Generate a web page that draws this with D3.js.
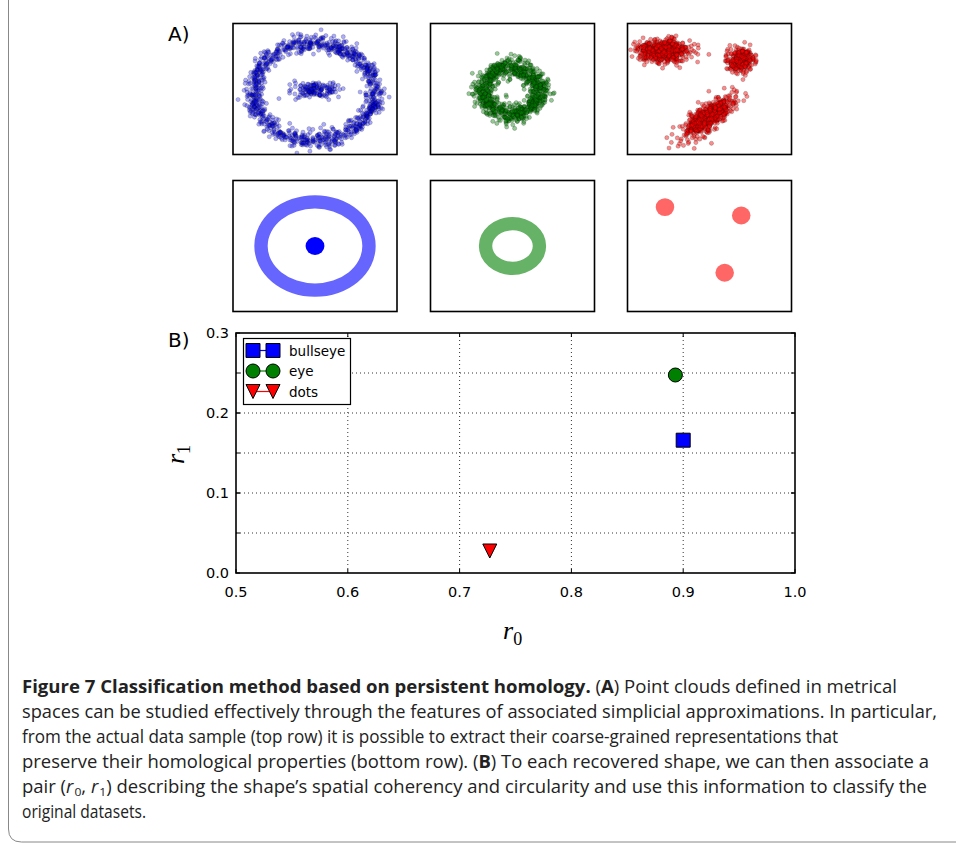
<!DOCTYPE html>
<html>
<head>
<meta charset="utf-8">
<script src="https://cdn.jsdelivr.net/npm/d3@7"></script>
<style>
  body { margin: 0; background: #fff; }
  svg { display: block; }
</style>
</head>
<body>
<svg id="fig" width="956" height="844"></svg>
<script>
// ---- data ----
// top row: the point clouds are described by their shapes (rings / blobs in panel units),
// the single points themselves are drawn from a seeded sampler since they cannot be read one by one
var cloudColors = ["rgba(0,0,255,0.32)", "rgba(0,128,0,0.42)", "rgba(255,0,0,0.45)"];
var cloudRings = [
  {panel: 0, cx: -0.01, cy: -0.03, rx: 0.74, ry: 0.6, sd: 0.065, n: 1000},
  {panel: 1, cx: -0.02, cy: -0.02, rx: 0.34, ry: 0.29, sd: 0.07, n: 900}
];
var cloudBlobs = [
  {panel: 0, cx: 0.01, cy: -0.01, sx: 0.14, sy: 0.05, angle: 0, n: 140},
  {panel: 2, cx: -0.57, cy: 0.47, sx: 0.16, sy: 0.065, angle: 0, n: 600},
  {panel: 2, cx: 0.376, cy: 0.36, sx: 0.085, sy: 0.07, angle: 0, n: 280},
  {panel: 2, cx: -0.01, cy: -0.34, sx: 0.18, sy: 0.07, angle: 37, n: 600}
];

// bottom row: coarse-grained shapes
var shapeColors = ["#6666ff", "#66b266", "#ff6666"];
var shapeRings = [
  {panel: 0, cx: 0.0, cy: 0.0, rx: 0.74, ry: 0.62, w: 0.163},
  {panel: 1, cx: 0.0, cy: 0.0, rx: 0.41, ry: 0.355, w: 0.163}
];
var shapeDots = [
  {panel: 0, cx: 0.0, cy: 0.0, rx: 0.115, ry: 0.11, color: "#0000ff"},
  {panel: 2, cx: -0.543, cy: 0.475, rx: 0.113, ry: 0.109, color: "#ff6666"},
  {panel: 2, cx: 0.387, cy: 0.373, rx: 0.113, ry: 0.109, color: "#ff6666"},
  {panel: 2, cx: 0.185, cy: -0.327, rx: 0.113, ry: 0.109, color: "#ff6666"}
];

// panel B
var seriesNames = ["bullseye", "eye", "dots"];
var seriesColors = ["#0000ff", "#008000", "#ff0000"];
var seriesShapes = ["square", "circle", "triangle"];
var seriesR0 = [0.900, 0.893, 0.727];
var seriesR1 = [0.166, 0.2475, 0.0275];
var xTicks = [0.5, 0.6, 0.7, 0.8, 0.9, 1.0];
var yTicks = [0.0, 0.1, 0.2, 0.3];
var yGrid = [0.05, 0.1, 0.15, 0.2, 0.25];

var svg = d3.select("#fig");

// outer frame of the figure box
svg.append("path")
  .attr("d", "M8.5,0 V829 Q8.5,842 21.5,842 H960")
  .attr("fill", "none").attr("stroke", "#888").attr("stroke-width", 1);

svg.append("text").attr("x", 168).attr("y", 41)
  .attr("font-family", "DejaVu Sans").attr("font-size", 20).text("A)");
svg.append("text").attr("x", 168).attr("y", 347)
  .attr("font-family", "DejaVu Sans").attr("font-size", 20).text("B)");

// ---- small panels ----
var panelX = [233, 430.5, 627.5];
var panelW = 164, panelH = 131;
var topY = 23.5, botY = 180.5;

var px = d3.scaleLinear().domain([-1, 1]).range([0, panelW]);
var py = d3.scaleLinear().domain([-0.8, 0.8]).range([panelH, 0]);

function makePanel(i, y0) {
  var g = svg.append("g").attr("transform", "translate(" + panelX[i] + "," + y0 + ")");
  g.append("clipPath").attr("id", "clip" + i + "_" + y0)
    .append("rect").attr("width", panelW).attr("height", panelH);
  var inner = g.append("g").attr("clip-path", "url(#clip" + i + "_" + y0 + ")");
  return {g: g, inner: inner};
}

var lcg = d3.randomLcg(0.2718);
var rnorm = d3.randomNormal.source(lcg)(0, 1);
var runif = d3.randomUniform.source(lcg)(0, 2 * Math.PI);

var topPanels = panelX.map(function(d, i) { return makePanel(i, topY); });
var botPanels = panelX.map(function(d, i) { return makePanel(i, botY); });

// sample clouds
var cloudPts = [[], [], []];
cloudRings.forEach(function(r) {
  for (var k = 0; k < r.n; k++) {
    var t = runif();
    cloudPts[r.panel].push([r.cx + (r.rx + rnorm() * r.sd) * Math.cos(t),
                            r.cy + (r.ry + rnorm() * r.sd) * Math.sin(t)]);
  }
});
cloudBlobs.forEach(function(b) {
  var a = b.angle * Math.PI / 180;
  for (var k = 0; k < b.n; k++) {
    var u = rnorm() * b.sx, v = rnorm() * b.sy;
    cloudPts[b.panel].push([b.cx + u * Math.cos(a) - v * Math.sin(a),
                            b.cy + u * Math.sin(a) + v * Math.cos(a)]);
  }
});

topPanels.forEach(function(p, i) {
  p.inner.selectAll("circle").data(cloudPts[i]).enter().append("circle")
    .attr("cx", function(d) { return px(d[0]); })
    .attr("cy", function(d) { return py(d[1]); })
    .attr("r", 2.1)
    .attr("fill", cloudColors[i])
    .attr("stroke", "rgba(0,0,0,0.3)")
    .attr("stroke-width", 0.6);
});

// bottom row shapes
function ellipsePath(cx, cy, rx, ry) {
  return "M" + (cx - rx) + "," + cy +
    "a" + rx + "," + ry + " 0 1,0 " + (2 * rx) + ",0" +
    "a" + rx + "," + ry + " 0 1,0 " + (-2 * rx) + ",0Z";
}
var kx = panelW / 2, ky = panelH / 1.6;
shapeRings.forEach(function(r) {
  var cx = px(r.cx), cy = py(r.cy);
  botPanels[r.panel].inner.append("path")
    .attr("d", ellipsePath(cx, cy, r.rx * kx, r.ry * ky) +
               ellipsePath(cx, cy, (r.rx - r.w) * kx, (r.ry - r.w) * ky))
    .attr("fill-rule", "evenodd")
    .attr("fill", shapeColors[r.panel]);
});
shapeDots.forEach(function(d) {
  botPanels[d.panel].inner.append("ellipse")
    .attr("cx", px(d.cx)).attr("cy", py(d.cy))
    .attr("rx", d.rx * kx).attr("ry", d.ry * ky)
    .attr("fill", d.color);
});

topPanels.concat(botPanels).forEach(function(p) {
  p.g.append("rect").attr("width", panelW).attr("height", panelH)
    .attr("fill", "none").attr("stroke", "#000").attr("stroke-width", 1.6);
});

// ---- panel B ----
var x = d3.scaleLinear().domain([0.5, 1.0]).range([236, 795]);
var y = d3.scaleLinear().domain([0, 0.3]).range([573, 333]);

var gridG = svg.append("g");
gridG.selectAll(".vg").data(xTicks.slice(1, -1)).enter().append("line")
  .attr("x1", function(d) { return x(d); }).attr("x2", function(d) { return x(d); })
  .attr("y1", y(0)).attr("y2", y(0.3))
  .attr("stroke", "#333").attr("stroke-width", 1).attr("stroke-dasharray", "1,3");
gridG.selectAll(".hg").data(yGrid).enter().append("line")
  .attr("y1", function(d) { return y(d); }).attr("y2", function(d) { return y(d); })
  .attr("x1", x(0.5)).attr("x2", x(1.0))
  .attr("stroke", "#333").attr("stroke-width", 1).attr("stroke-dasharray", "1,3");

// inward ticks
var tickG = svg.append("g").attr("stroke", "#000").attr("stroke-width", 1);
xTicks.forEach(function(d) {
  tickG.append("line").attr("x1", x(d)).attr("x2", x(d)).attr("y1", y(0)).attr("y2", y(0) - 4);
  tickG.append("line").attr("x1", x(d)).attr("x2", x(d)).attr("y1", y(0.3)).attr("y2", y(0.3) + 4);
});
yGrid.concat(yTicks).forEach(function(d) {
  tickG.append("line").attr("y1", y(d)).attr("y2", y(d)).attr("x1", x(0.5)).attr("x2", x(0.5) + 4);
  tickG.append("line").attr("y1", y(d)).attr("y2", y(d)).attr("x1", x(1.0)).attr("x2", x(1.0) - 4);
});

svg.append("rect")
  .attr("x", x(0.5)).attr("y", y(0.3))
  .attr("width", x(1.0) - x(0.5)).attr("height", y(0) - y(0.3))
  .attr("fill", "none").attr("stroke", "#000").attr("stroke-width", 1.6);

svg.selectAll(".xl").data(xTicks).enter().append("text")
  .attr("x", function(d) { return x(d); }).attr("y", 597)
  .attr("text-anchor", "middle")
  .attr("font-family", "DejaVu Sans").attr("font-size", 14.5)
  .text(function(d) { return d.toFixed(1); });
svg.selectAll(".yl").data(yTicks).enter().append("text")
  .attr("x", 229).attr("y", function(d) { return y(d) + 5; })
  .attr("text-anchor", "end")
  .attr("font-family", "DejaVu Sans").attr("font-size", 14.5)
  .text(function(d) { return d.toFixed(1); });

// axis labels
var xlab = svg.append("text").attr("x", 503).attr("y", 639)
  .attr("font-family", "Liberation Serif").attr("font-size", 26);
xlab.append("tspan").attr("font-style", "italic").text("r");
xlab.append("tspan").attr("dy", 6).attr("font-size", 18).text("0");

var ylab = svg.append("text")
  .attr("transform", "translate(184,464) rotate(-90)")
  .attr("font-family", "Liberation Serif").attr("font-size", 26);
ylab.append("tspan").attr("font-style", "italic").text("r");
ylab.append("tspan").attr("dy", 6).attr("font-size", 18).text("1");

// markers
function markerPath(shape) {
  if (shape === "square") return "M-7,-7H7V7H-7Z";
  if (shape === "circle") return d3.symbol(d3.symbolCircle, Math.PI * 49)();
  return "M-7,-7L7,-7L0,7Z";
}

svg.selectAll(".pt").data(seriesNames).enter().append("path")
  .attr("transform", function(d, i) { return "translate(" + x(seriesR0[i]) + "," + y(seriesR1[i]) + ")"; })
  .attr("d", function(d, i) { return markerPath(seriesShapes[i]); })
  .attr("fill", function(d, i) { return seriesColors[i]; })
  .attr("stroke", "#000").attr("stroke-width", 1);

// legend
var leg = svg.append("g");
leg.append("rect").attr("x", 243.5).attr("y", 338.5).attr("width", 107).attr("height", 66)
  .attr("fill", "#fff").attr("stroke", "#000").attr("stroke-width", 1.2);
seriesNames.forEach(function(name, i) {
  var ey = 350.5 + i * 20.5;
  leg.append("line").attr("x1", 253).attr("x2", 273).attr("y1", ey).attr("y2", ey)
    .attr("stroke", seriesColors[i]).attr("stroke-width", 1.2);
  [253, 273].forEach(function(mx) {
    leg.append("path").attr("transform", "translate(" + mx + "," + ey + ")")
      .attr("d", markerPath(seriesShapes[i]))
      .attr("fill", seriesColors[i]).attr("stroke", "#000").attr("stroke-width", 1);
  });
  leg.append("text").attr("x", 289).attr("y", ey + 5)
    .attr("font-family", "DejaVu Sans").attr("font-size", 13.5).text(name);
});

// ---- caption ----
var capFont = "'Open Sans', sans-serif";
var capLines = [
  {y: 693, len: 875, parts: [["b", "Figure 7  Classification method based on persistent homology."], ["", " ("], ["b", "A"], ["", ") Point clouds defined in metrical"]]},
  {y: 718, len: 915, parts: [["", "spaces can be studied effectively through the features of associated simplicial approximations. In particular,"]]},
  {y: 743, len: 816, parts: [["", "from the actual data sample (top row) it is possible to extract their coarse-grained representations that"]]},
  {y: 768, len: 907, parts: [["", "preserve their homological properties (bottom row). ("], ["b", "B"], ["", ") To each recovered shape, we can then associate a"]]},
  {y: 793, len: 905, parts: [["", "pair ("], ["i", "r"], ["s", "0"], ["", ", "], ["i", "r"], ["s", "1"], ["", ") describing the shape\u2019s spatial coherency and circularity and use this information to classify the"]]},
  {y: 818, len: 124, parts: [["", "original datasets."]]}
];
capLines.forEach(function(line) {
  var t = svg.append("text").attr("x", 22).attr("y", line.y)
    .attr("font-family", capFont).attr("font-size", 17.5).attr("fill", "#222")
    .attr("textLength", line.len).attr("lengthAdjust", "spacingAndGlyphs");
  var sub = false;
  line.parts.forEach(function(p) {
    var ts = t.append("tspan").text(p[1]);
    if (p[0] === "b") ts.attr("font-weight", "bold");
    if (p[0] === "i") ts.attr("font-style", "italic");
    if (p[0] === "s") { ts.attr("font-size", 11.5).attr("dy", 2.5).attr("dx", 1); sub = true; }
    else if (sub) { ts.attr("dy", -2.5); sub = false; }
  });
});
</script>
</body>
</html>
